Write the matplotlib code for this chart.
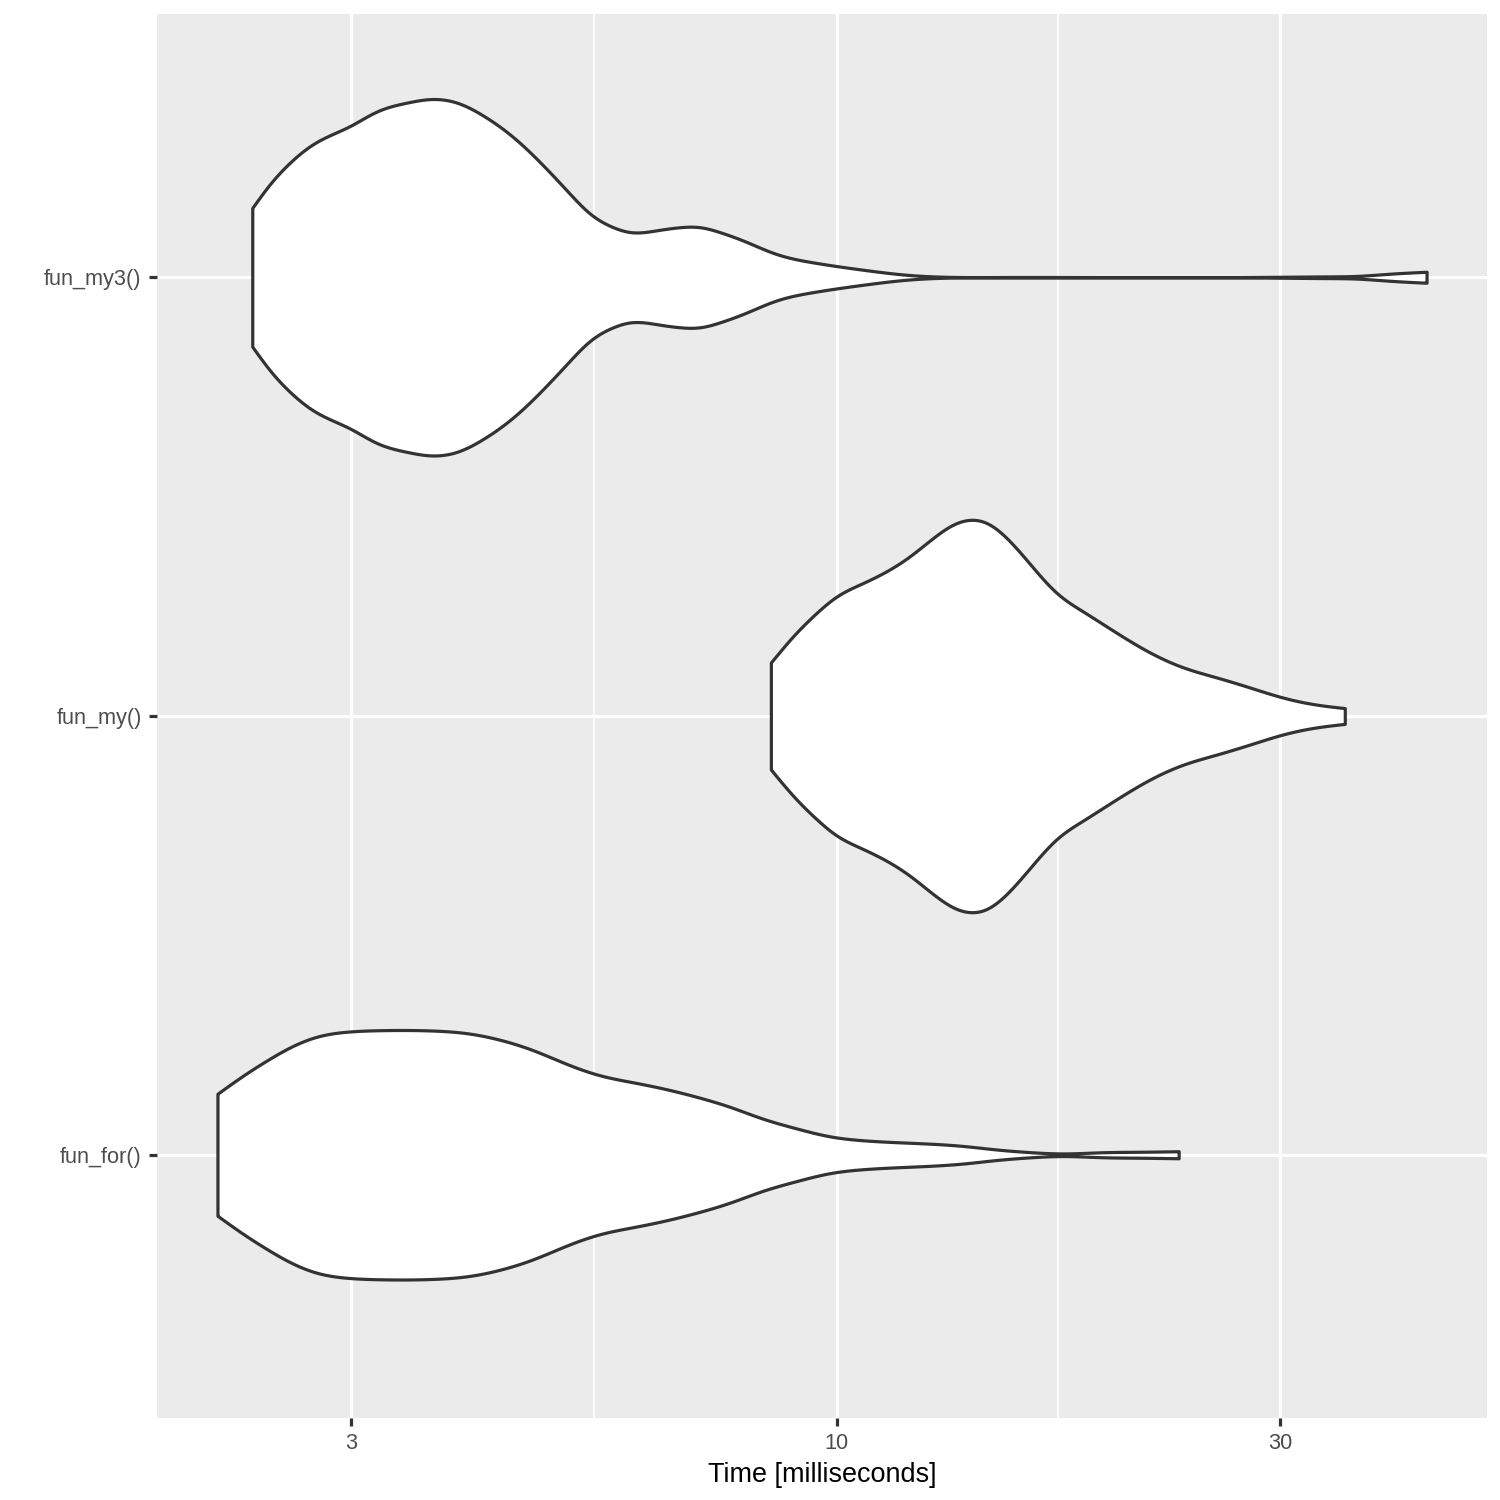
import numpy as np
import matplotlib
matplotlib.use("Agg")
import matplotlib.pyplot as plt
from matplotlib.ticker import FixedLocator, NullFormatter, FixedFormatter

# ---------------- data ----------------
categories = ["fun_for()", "fun_my()", "fun_my3()"]

# violin profiles: time [ms] and half-width (in category units)
for_time = [2.152, 2.296, 2.433, 2.578, 2.754, 2.991, 3.249, 3.677, 3.995, 4.337, 4.711,
            5.117, 5.559, 6.035, 6.501, 7.063, 7.673, 8.330, 9.049, 9.828, 10.67, 12.08,
            13.68, 14.86, 16.13, 17.52, 19.19, 21.14, 23.34]
for_width = [0.139, 0.181, 0.215, 0.245, 0.269, 0.281, 0.284, 0.283, 0.277, 0.262, 0.238,
             0.207, 0.181, 0.165, 0.151, 0.132, 0.109, 0.082, 0.060, 0.042, 0.033, 0.027,
             0.020, 0.012, 0.006, 0.003, 0.0055, 0.0068, 0.008]

my_time = [8.49, 8.974, 9.508, 9.99, 10.59, 11.31, 11.98, 12.70, 13.34, 13.91, 14.49,
           15.36, 16.27, 17.24, 18.42, 20.00, 21.73, 23.60, 25.63, 27.85, 30.24, 32.86, 35.24]
my_width = [0.122, 0.182, 0.235, 0.272, 0.300, 0.330, 0.364, 0.406, 0.436, 0.447, 0.440,
            0.398, 0.338, 0.281, 0.238, 0.190, 0.145, 0.111, 0.088, 0.065, 0.042, 0.026, 0.018]

my3_time = [2.346, 2.453, 2.578, 2.731, 2.991, 3.197, 3.442, 3.647, 3.896, 4.163, 4.483,
            4.790, 5.117, 5.422, 5.743, 5.987, 6.397, 6.776, 7.120, 7.50, 7.96, 8.58, 9.42,
            10.77, 11.84, 12.69, 14.98, 19.19, 27.85, 33.96, 36.22, 39.40, 43.16]
my3_width = [0.158, 0.213, 0.262, 0.304, 0.345, 0.378, 0.398, 0.406, 0.398, 0.368, 0.319,
             0.262, 0.198, 0.145, 0.114, 0.103, 0.107, 0.114, 0.114, 0.102, 0.082, 0.054,
             0.034, 0.016, 0.006, 0.002, 0.0005, 0.0003, 0.0005, 0.002, 0.003, 0.008, 0.0125]

x_ticks = [3, 10, 30]
x_tick_labels = ["3", "10", "30"]
x_label = "Time [milliseconds]"

# ---------------- drawing ----------------
plt.rcParams['font.family'] = ['Liberation Sans', 'DejaVu Sans']

DPI = 1500 / 7
fig = plt.figure(figsize=(7, 7), dpi=DPI, facecolor="white")
ax = fig.add_axes([157 / 1500, 82 / 1500, (1487 - 157) / 1500, (1418 - 14) / 1500])
ax.set_facecolor("#EBEBEB")
ax.set_xscale("log")


def smooth_profile(t, w, n=900):
    """Natural cubic spline through the read points (in log-time space), for drawing."""
    x = np.log10(np.asarray(t, float))
    y = np.asarray(w, float)
    k = len(x)
    h = np.diff(x)
    A = np.zeros((k, k))
    b = np.zeros(k)
    A[0, 0] = A[-1, -1] = 1.0
    for i in range(1, k - 1):
        A[i, i - 1] = h[i - 1]
        A[i, i] = 2 * (h[i - 1] + h[i])
        A[i, i + 1] = h[i]
        b[i] = 6 * ((y[i + 1] - y[i]) / h[i] - (y[i] - y[i - 1]) / h[i - 1])
    M = np.linalg.solve(A, b)
    xs = np.linspace(x[0], x[-1], n)
    idx = np.clip(np.searchsorted(x, xs, side="right") - 1, 0, k - 2)
    x0, x1 = x[idx], x[idx + 1]
    hh = x1 - x0
    ys = (M[idx] * (x1 - xs) ** 3 / (6 * hh) + M[idx + 1] * (xs - x0) ** 3 / (6 * hh)
          + (y[idx] / hh - M[idx] * hh / 6) * (x1 - xs)
          + (y[idx + 1] / hh - M[idx + 1] * hh / 6) * (xs - x0))
    return 10 ** xs, np.clip(ys, 0.0002, None)


profiles = [(for_time, for_width), (my_time, my_width), (my3_time, my3_width)]
for pos, (t, w) in enumerate(profiles, start=1):
    ts, ws = smooth_profile(t, w)
    ax.fill_between(ts, pos - ws, pos + ws, facecolor="white", edgecolor="#333333",
                    linewidth=1.07, zorder=3)

# axes limits (ggplot expansion)
lo, hi = np.log10(min(for_time)), np.log10(max(my3_time))
pad = 0.05 * (hi - lo)
ax.set_xlim(10 ** (lo - pad), 10 ** (hi + pad))
ax.set_ylim(0.4, 3.6)

ax.xaxis.set_major_locator(FixedLocator(x_ticks))
ax.xaxis.set_major_formatter(FixedFormatter(x_tick_labels))
ax.xaxis.set_minor_locator(FixedLocator([np.sqrt(3 * 10), np.sqrt(10 * 30)]))
ax.xaxis.set_minor_formatter(NullFormatter())
ax.set_yticks([1, 2, 3])
ax.set_yticklabels(categories)

ax.grid(which="major", color="white", linewidth=1.07, zorder=0)
ax.grid(which="minor", axis="x", color="white", linewidth=0.53, zorder=0)
ax.set_axisbelow(True)

for sp in ax.spines.values():
    sp.set_visible(False)

ax.tick_params(axis="both", which="major", length=2.75, width=1.07, color="#333333",
               labelsize=7.3, labelcolor="#4D4D4D", pad=2.4)
ax.tick_params(axis="x", which="minor", length=0)

ax.set_xlabel(x_label, fontsize=9.1, color="black", labelpad=2.5)

fig.savefig("out.png", dpi=DPI, facecolor="white")
